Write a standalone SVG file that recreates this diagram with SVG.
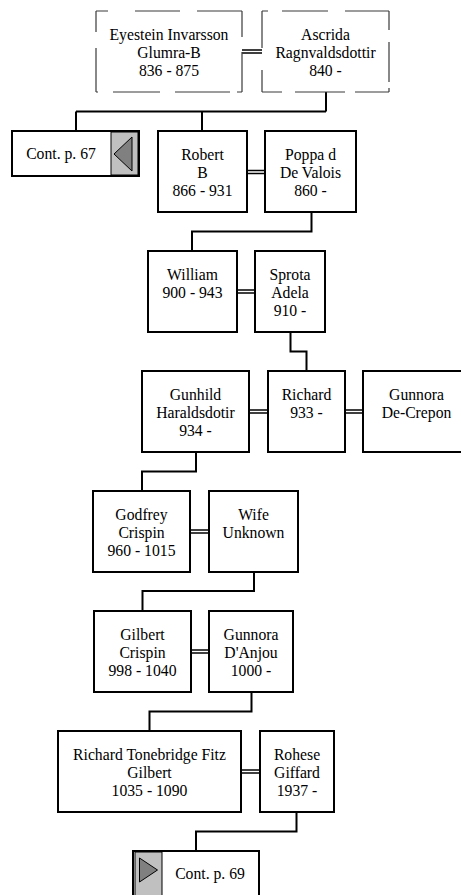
<svg xmlns="http://www.w3.org/2000/svg" width="461" height="895" viewBox="0 0 461 895">
<style>
.b{fill:#fff;stroke:#000;stroke-width:2}
.d{fill:none;stroke:#3a3a3a;stroke-width:1.2}
.t{font-family:"Liberation Serif","Times New Roman",serif;font-size:15.7px;fill:#000;text-anchor:middle}
.c{fill:none;stroke:#000;stroke-width:2}
.m{fill:none;stroke:#000;stroke-width:1.3}
.g{fill:#c0c0c0;stroke:#000;stroke-width:1}
.tri{fill:#808080;stroke:#000;stroke-width:1}
</style>
<rect width="461" height="895" fill="#fff"/>
<g id="connectors">
<path class="c" d="M326,92V111.5M76,111.5H326M76,111.5V131M202,111.5V131"/>
<path class="c" d="M311.5,212V231.5H192V251"/>
<path class="c" d="M290.5,332V351.5H306.5V371"/>
<path class="c" d="M196,452V471.5H142V491"/>
<path class="c" d="M254,572V591H142.5V611"/>
<path class="c" d="M251.5,692V711.5H149.5V731"/>
<path class="c" d="M296.5,812V831.5H196V851"/>
<path class="m" d="M242,50H262M242,53H262"/>
<path class="m" d="M247,170.5H265M247,173.5H265"/>
<path class="m" d="M237,290H255M237,293H255"/>
<path class="m" d="M249,410H268M249,413H268"/>
<path class="m" d="M345,410H363M345,413H363"/>
<path class="m" d="M190,530H209M190,533H209"/>
<path class="m" d="M191,650H209M191,653H209"/>
<path class="m" d="M241,770H260M241,773H260"/>
</g>
<g id="eyestein">
<rect x="96" y="11" width="146" height="81" fill="#fff"/>
<path class="d" d="M96,11H108M135,11H180M197,11H242M242,11V37M242,52V92M96,92H98M113,92H160M175,92H230M237,92H242M96,11V32M96,48V92"/>
<text class="t" x="169" y="40">Eyestein Invarsson</text>
<text class="t" x="169" y="58">Glumra-B</text>
<text class="t" x="169" y="76">836 - 875</text>
</g>
<g id="ascrida">
<rect x="262" y="11" width="127" height="81" fill="#fff"/>
<path class="d" d="M262,11H268M282,11H328M345,11H389M262,11V48M262,70V92M389,11V30M389,42V82M389,88V92M262,92H282M295,92H345M355,92H389"/>
<text class="t" x="325.5" y="40">Ascrida</text>
<text class="t" x="325.5" y="58">Ragnvaldsdottir</text>
<text class="t" x="325.5" y="76">840 -</text>
</g>
<g id="cont67">
<rect class="b" x="12" y="131" width="127" height="45"/>
<rect class="g" x="111" y="132" width="27" height="43"/>
<polygon class="tri" points="114,154 132,137 132,171"/>
<text class="t" x="61" y="159">Cont. p. 67</text>
</g>
<g id="robert">
<rect class="b" x="158" y="131" width="89" height="81"/>
<text class="t" x="202.5" y="160">Robert</text>
<text class="t" x="202.5" y="178">B</text>
<text class="t" x="202.5" y="196">866 - 931</text>
</g>
<g id="poppa">
<rect class="b" x="265" y="131" width="91" height="81"/>
<text class="t" x="310.5" y="160">Poppa d</text>
<text class="t" x="310.5" y="178">De Valois</text>
<text class="t" x="310.5" y="196">860 -</text>
</g>
<g id="william">
<rect class="b" x="148" y="251" width="89" height="81"/>
<text class="t" x="192.5" y="280">William</text>
<text class="t" x="192.5" y="298">900 - 943</text>
</g>
<g id="sprota">
<rect class="b" x="255" y="251" width="70" height="81"/>
<text class="t" x="290" y="280">Sprota</text>
<text class="t" x="290" y="298">Adela</text>
<text class="t" x="290" y="316">910 -</text>
</g>
<g id="gunhild">
<rect class="b" x="142" y="371" width="107" height="81"/>
<text class="t" x="195.5" y="400">Gunhild</text>
<text class="t" x="195.5" y="418">Haraldsdotir</text>
<text class="t" x="195.5" y="436">934 -</text>
</g>
<g id="richard">
<rect class="b" x="268" y="371" width="77" height="81"/>
<text class="t" x="306.5" y="400">Richard</text>
<text class="t" x="306.5" y="418">933 -</text>
</g>
<g id="gunnora-decrepon">
<rect class="b" x="363" y="371" width="107" height="81"/>
<text class="t" x="416.5" y="400">Gunnora</text>
<text class="t" x="416.5" y="418">De-Crepon</text>
</g>
<g id="godfrey">
<rect class="b" x="93" y="491" width="97" height="81"/>
<text class="t" x="141.5" y="520">Godfrey</text>
<text class="t" x="141.5" y="538">Crispin</text>
<text class="t" x="141.5" y="556">960 - 1015</text>
</g>
<g id="wife">
<rect class="b" x="209" y="491" width="89" height="81"/>
<text class="t" x="253.5" y="520">Wife</text>
<text class="t" x="253.5" y="538">Unknown</text>
</g>
<g id="gilbert">
<rect class="b" x="94" y="611" width="97" height="81"/>
<text class="t" x="142.5" y="640">Gilbert</text>
<text class="t" x="142.5" y="658">Crispin</text>
<text class="t" x="142.5" y="676">998 - 1040</text>
</g>
<g id="gunnora-danjou">
<rect class="b" x="209" y="611" width="84" height="81"/>
<text class="t" x="251" y="640">Gunnora</text>
<text class="t" x="251" y="658">D'Anjou</text>
<text class="t" x="251" y="676">1000 -</text>
</g>
<g id="richard-tonebridge">
<rect class="b" x="58" y="731" width="183" height="81"/>
<text class="t" x="149.5" y="760">Richard Tonebridge Fitz</text>
<text class="t" x="149.5" y="778">Gilbert</text>
<text class="t" x="149.5" y="796">1035 - 1090</text>
</g>
<g id="rohese">
<rect class="b" x="260" y="731" width="74" height="81"/>
<text class="t" x="297" y="760">Rohese</text>
<text class="t" x="297" y="778">Giffard</text>
<text class="t" x="297" y="796">1937 -</text>
</g>
<g id="cont69">
<rect class="b" x="133" y="851" width="126" height="50"/>
<rect class="g" x="135" y="852" width="27" height="48"/>
<polygon class="tri" points="139.5,858 157.5,870 139.5,882"/>
<text class="t" x="210" y="879">Cont. p. 69</text>
</g>
</svg>
